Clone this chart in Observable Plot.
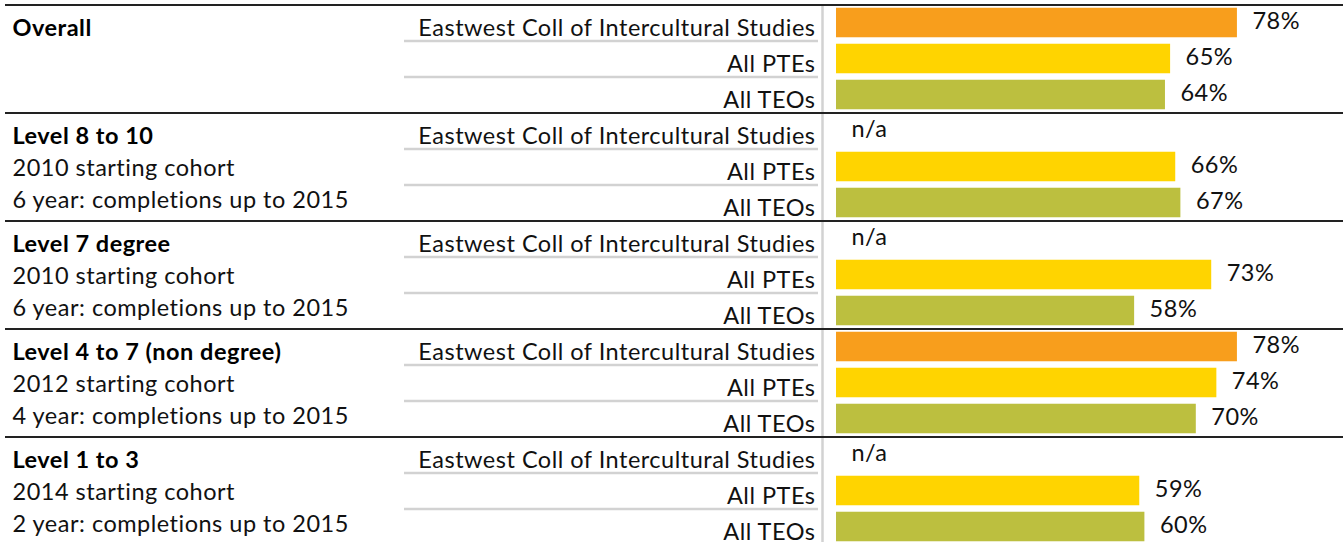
<!DOCTYPE html>
<html>
<head>
<meta charset="utf-8">
<script src="https://cdn.jsdelivr.net/npm/d3@7"></script>
<script src="https://cdn.jsdelivr.net/npm/@observablehq/plot@0.6"></script>
<style>
  html, body { margin: 0; padding: 0; background: #fff; overflow: hidden; }
  #chart svg { display: block; overflow: visible; }
  #chart svg text { letter-spacing: 0.5px; font-variant-ligatures: none; }
</style>
</head>
<body>
<div id="chart"></div>
<script>
// ---- data ----
const groupTitles = ["Overall", "Level 8 to 10", "Level 7 degree", "Level 4 to 7 (non degree)", "Level 1 to 3"];
const groupCohorts = ["", "2010 starting cohort", "2010 starting cohort", "2012 starting cohort", "2014 starting cohort"];
const groupWindows = ["", "6 year: completions up to 2015", "6 year: completions up to 2015", "4 year: completions up to 2015", "2 year: completions up to 2015"];
const categories = ["Eastwest Coll of Intercultural Studies", "All PTEs", "All TEOs"];
const eastwestValues = [78, null, null, 78, null];
const ptesValues = [65, 66, 73, 74, 59];
const teosValues = [64, 67, 58, 70, 60];
const categoryColors = ["#F89E1C", "#FFD400", "#BCBF3F"];

// ---- table ----
const seriesValues = [eastwestValues, ptesValues, teosValues];
const rows = [];
groupTitles.forEach((g, gi) => {
  categories.forEach((c, ci) => {
    rows.push({group: g, gi, category: c, ci, row: gi * 3 + ci, value: seriesValues[ci][gi]});
  });
});
const groups = groupTitles.map((t, gi) => ({gi, title: t, cohort: groupCohorts[gi], window: groupWindows[gi], top: gi * 3}));
const inner = rows.filter(d => d.ci > 0);

const font = "Lato, 'Open Sans', sans-serif";

const chart = Plot.plot({
  width: 1343,
  height: 542,
  marginLeft: 0, marginRight: 0, marginTop: 0, marginBottom: 0,
  style: {fontFamily: font, fontSize: "23.5px", color: "#111", background: "#fff"},
  x: {domain: [0, 100], range: [836, 1350], axis: null},
  y: {domain: [0, 15], range: [4.5, 544.5], axis: null},
  color: {domain: categories, range: categoryColors},
  marks: [
    // bars
    Plot.rect(rows.filter(d => d.value != null), {
      x1: 0, x2: "value",
      y1: d => d.row + 0.09, y2: d => d.row + 0.91,
      fill: "category"
    }),
    // light separators inside label column
    Plot.ruleY(inner, {y: "row", stroke: "#d2d2d2", strokeWidth: 2.5, insetLeft: 404, insetRight: 525}),
    // vertical divider
    Plot.ruleX([0], {y1: 0, y2: 15, dx: -14, stroke: "#d2d2d2", strokeWidth: 2.5}),
    // group separators
    Plot.ruleY(groups, {y: "top", stroke: "#222", strokeWidth: 2.2, insetLeft: 5}),
    // category labels
    Plot.text(rows, {x: 0, y: d => d.row + 0.5, text: "category", textAnchor: "end", dx: -21, dy: 5, fill: "#111"}),
    // value labels
    Plot.text(rows, {
      x: d => d.value ?? 0, y: d => d.row + 0.5,
      text: d => d.value == null ? "n/a" : d.value + "%",
      textAnchor: "start", dx: 15, dy: -2, fill: "#111"
    }),
    // group titles
    Plot.text(groups, {frameAnchor: "left", y: "top", text: "title", dx: 12, dy: 23, fontWeight: "bold", fill: "#000"}),
    Plot.text(groups, {frameAnchor: "left", y: "top", text: "cohort", dx: 12, dy: 55, fill: "#111"}),
    Plot.text(groups, {frameAnchor: "left", y: "top", text: "window", dx: 12, dy: 87, fill: "#111"})
  ]
});
document.getElementById("chart").appendChild(chart);
</script>
</body>
</html>
